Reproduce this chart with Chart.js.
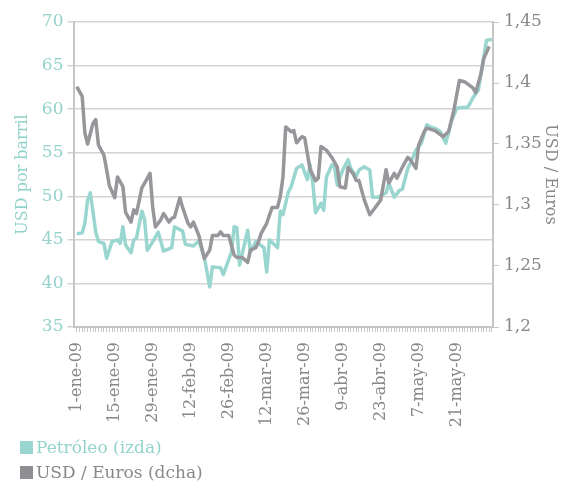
<!DOCTYPE html>
<html lang="es">
<head>
<meta charset="UTF-8">
<title>Petróleo y USD / Euros</title>
<script src="https://cdn.jsdelivr.net/npm/chart.js"></script>
<style>
    body { margin: 0; background: #fff; font-family: "DejaVu Serif", serif; }
    #wrap { position: relative; width: 563px; height: 485px; }
    .leyenda {
        position: absolute;
        left: 20px;
        font-size: 17px;
        display: flex;
        align-items: center;
        height: 20px;
    }
    .caja { width: 13px; height: 13px; margin-right: 3px; }
</style>
</head>
<body>
<div id="wrap">
    <canvas id="chart"></canvas>
    <div class="leyenda" style="top:437px; color:#93d3cb"><span class="caja" style="background:#99d6cf"></span>Petróleo (izda)</div>
    <div class="leyenda" style="top:462px; color:#88888c"><span class="caja" style="background:#8f8f93"></span>USD / Euros (dcha)</div>
</div>

<script>
    // etiquetas del eje X, una cada 14 días desde el 1 de enero
    const xLabels = ['1-ene-09', '15-ene-09', '29-ene-09', '12-feb-09', '26-feb-09', '12-mar-09',
                     '26-mar-09', '9-abr-09', '23-abr-09', '7-may-09', '21-may-09'];
    const rightLabels = ['1,2', '1,25', '1,3', '1,35', '1,4', '1,45'];

    // Petróleo (USD por barril), día = días desde el 1-ene-09
    const oilDays = [0, 2, 3, 4, 5, 7, 8, 10, 11, 13, 15, 16, 17, 18, 20, 21, 22, 24, 25, 26,
                     28, 30, 32, 35, 36, 39, 40, 43, 45, 47, 49, 50, 53, 54, 57, 58, 59, 60, 63, 64,
                     66, 69, 70, 71, 74, 75, 76, 78, 79, 81, 83, 85, 86, 87, 88, 90, 91, 92, 94, 95,
                     96, 98, 100, 101, 103, 104, 106, 108, 109, 111, 114, 115, 116, 117, 119, 120, 122, 123, 125, 127,
                     129, 130, 132, 134, 136, 137, 138, 140, 142, 144, 145, 146, 148, 149, 150, 151, 153];
    const oilValues = [45.7, 45.8, 46.9, 49.6, 50.4, 45.9, 44.8, 44.6, 42.9, 44.8, 45.0, 44.6, 46.5, 44.4, 43.5, 45.0, 45.2, 48.3, 47.3, 43.8,
                       44.8, 45.9, 43.7, 44.1, 46.5, 46.0, 44.5, 44.3, 44.9, 43.0, 39.6, 41.9, 41.8, 41.0, 43.6, 46.5, 46.4, 42.1, 46.1, 43.6,
                       44.8, 44.1, 41.3, 45.0, 44.1, 48.3, 47.9, 50.5, 51.1, 53.2, 53.6, 51.9, 53.6, 51.5, 48.1, 49.2, 48.4, 52.2, 53.6, 53.4,
                       51.3, 53.0, 54.2, 53.2, 52.3, 53.0, 53.4, 53.0, 49.9, 49.9, 50.4, 51.5, 50.7, 49.9, 50.7, 50.8, 53.2, 53.8, 55.3, 56.1,
                       58.2, 58.0, 57.8, 57.4, 56.1, 57.3, 58.5, 60.1, 60.2, 60.2, 60.7, 61.3, 62.2, 64.1, 66.0, 67.9, 68.0];

    // USD / Euros
    const fxDays = [0, 2, 3, 4, 6, 7, 8, 10, 11, 12, 14, 15, 17, 18, 20, 21, 22, 24, 25, 27,
                    28, 29, 31, 32, 34, 35, 36, 38, 39, 41, 42, 43, 45, 47, 49, 50, 52, 53, 54, 56,
                    58, 59, 61, 63, 64, 66, 67, 68, 70, 72, 74, 75, 76, 77, 79, 80, 81, 83, 84, 86,
                    88, 89, 90, 92, 94, 96, 97, 99, 100, 102, 103, 104, 106, 108, 110, 112, 114, 115, 117, 118,
                    120, 122, 123, 125, 126, 128, 129, 132, 135, 137, 139, 141, 143, 146, 147, 149, 150, 152];
    const fxValues = [1.397, 1.389, 1.359, 1.350, 1.367, 1.370, 1.349, 1.341, 1.329, 1.316, 1.306, 1.323, 1.315, 1.294, 1.286, 1.296, 1.293, 1.314, 1.318, 1.326,
                      1.298, 1.282, 1.288, 1.293, 1.286, 1.289, 1.290, 1.306, 1.298, 1.285, 1.282, 1.286, 1.275, 1.256, 1.263, 1.275, 1.275, 1.278, 1.275, 1.275,
                      1.259, 1.257, 1.257, 1.253, 1.263, 1.265, 1.270, 1.277, 1.285, 1.298, 1.298, 1.307, 1.323, 1.364, 1.360, 1.361, 1.351, 1.356, 1.355, 1.329,
                      1.320, 1.322, 1.348, 1.345, 1.339, 1.331, 1.315, 1.314, 1.331, 1.325, 1.320, 1.320, 1.304, 1.292, 1.298, 1.304, 1.329, 1.318, 1.326, 1.322,
                      1.331, 1.339, 1.337, 1.330, 1.349, 1.360, 1.363, 1.361, 1.356, 1.360, 1.378, 1.402, 1.401, 1.396, 1.392, 1.408, 1.420, 1.430];

    const teal = '#99d6cf';
    const tealText = '#93d3cb';
    const gray = '#97979b';
    const labelGray = '#88888c';
    const gridColor = '#d3d3d3';
    const axisColor = '#c6c6c6';
    const tickFont = { family: 'DejaVu Serif', size: 17 };
    const smallFont = { family: 'DejaVu Serif', size: 16 };

    const toPoints = (xs, ys) => xs.map((d, i) => ({ x: d, y: ys[i] }));

    new Chart(document.getElementById('chart'), {
        type: 'line',
        data: {
            datasets: [
                {
                    label: 'USD / Euros (dcha)',
                    data: toPoints(fxDays, fxValues),
                    yAxisID: 'y1',
                    borderColor: gray,
                    borderWidth: 3.5,
                    pointRadius: 0,
                    borderJoinStyle: 'round'
                },
                {
                    label: 'Petróleo (izda)',
                    data: toPoints(oilDays, oilValues),
                    yAxisID: 'y',
                    borderColor: teal,
                    borderWidth: 3.5,
                    pointRadius: 0,
                    borderJoinStyle: 'round'
                }
            ]
        },
        options: {
            responsive: true,
            maintainAspectRatio: false,
            animation: false,
            layout: { padding: { top: 22, bottom: 50, left: 0, right: 0 } },
            plugins: { legend: { display: false }, tooltip: { enabled: false } },
            scales: {
                x: {
                    type: 'linear',
                    min: -1.2,
                    max: 153.4,
                    afterBuildTicks: scale => {
                        const t = [];
                        for (let d = 0; d <= 153; d++) t.push({ value: d });
                        scale.ticks = t;
                    },
                    afterFit: scale => { scale.height = 108; },
                    ticks: {
                        autoSkip: false,
                        minRotation: 90,
                        maxRotation: 90,
                        padding: 10,
                        color: labelGray,
                        font: smallFont,
                        callback: v => (v % 14 === 0 ? xLabels[v / 14] || '' : '')
                    },
                    grid: { drawOnChartArea: false, drawTicks: true, tickLength: 5, color: axisColor, lineWidth: 1 },
                    border: { color: axisColor, width: 2 }
                },
                y: {
                    position: 'left',
                    min: 35,
                    max: 70,
                    afterFit: scale => { scale.width = 73.5; },
                    ticks: { stepSize: 5, padding: 4, color: tealText, font: tickFont },
                    grid: { color: gridColor, lineWidth: 1.5, tickLength: 6 },
                    border: { color: axisColor, width: 2 },
                    title: { display: true, text: 'USD por barril', color: tealText, font: smallFont, padding: { top: 13 } }
                },
                y1: {
                    position: 'right',
                    min: 1.2,
                    max: 1.45,
                    afterFit: scale => { scale.width = 70; },
                    ticks: {
                        stepSize: 0.05,
                        padding: 5,
                        color: labelGray,
                        font: tickFont,
                        callback: (v, i) => rightLabels[i]
                    },
                    grid: { drawOnChartArea: false, color: axisColor, tickLength: 6 },
                    border: { color: axisColor, width: 2 },
                    title: { display: true, text: 'USD / Euros', color: labelGray, font: smallFont, padding: { top: 3 } }
                }
            }
        }
    });
</script>
</body>
</html>
